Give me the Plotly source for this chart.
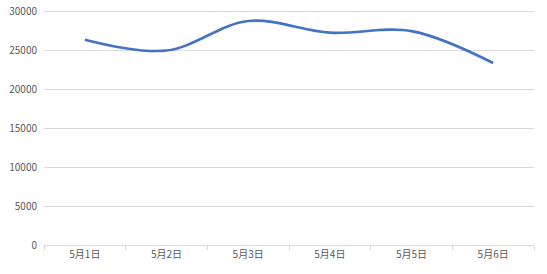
import plotly.graph_objects as go

categories = ["5月1日", "5月2日", "5月3日", "5月4日", "5月5日", "5月6日"]
values = [26400, 25000, 28800, 27300, 27500, 23400]
y_ticks = [0, 5000, 10000, 15000, 20000, 25000, 30000]
y_tick_labels = ["0", "5000", "10000", "15000", "20000", "25000", "30000"]

fig = go.Figure()
fig.add_trace(go.Scatter(
    x=categories, y=values, mode="lines",
    line=dict(color="#4472C4", width=2.6, shape="spline", smoothing=1.0),
    hoverinfo="skip",
))

font = dict(family="Noto Sans CJK SC, Microsoft YaHei, sans-serif", size=10, color="#595959")
fig.update_layout(
    width=547, height=274,
    margin=dict(l=44, r=13, t=3, b=29),
    paper_bgcolor="white", plot_bgcolor="white",
    showlegend=False,
    font=font,
    xaxis=dict(
        type="category", range=[-0.5, len(categories) - 0.5],
        tickson="boundaries", ticks="outside", ticklen=4,
        tickcolor="#D9D9D9", showline=True, linecolor="#D9D9D9", linewidth=1,
        showgrid=False, tickfont=font, fixedrange=True,
    ),
    yaxis=dict(
        range=[0, 30600], tickmode="array", tickvals=y_ticks, ticktext=y_tick_labels,
        showgrid=True, gridcolor="#D9D9D9",
        gridwidth=1, zeroline=False, showline=False, ticks="", tickfont=font,
        ticklabelstandoff=6, ticklabeloverflow="allow", fixedrange=True,
    ),
)
fig.write_html("out.html")
